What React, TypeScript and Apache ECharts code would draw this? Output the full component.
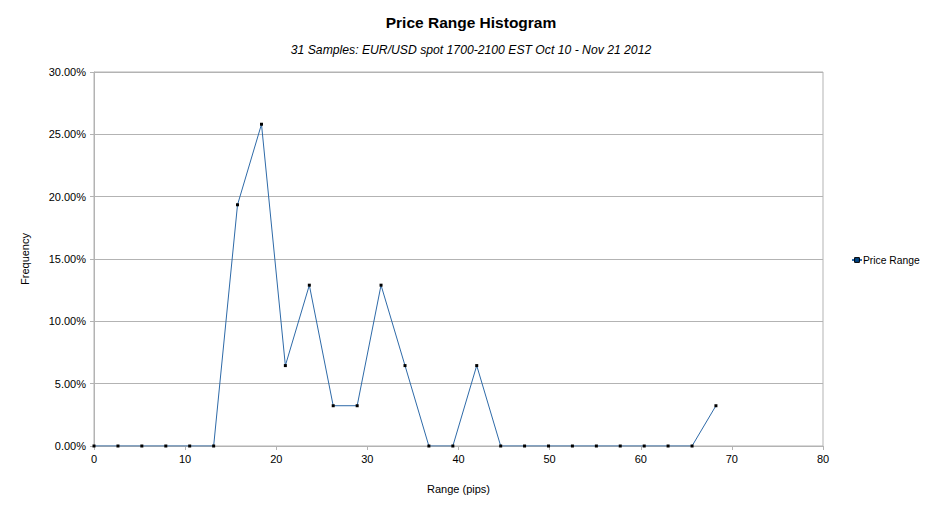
import React, { useEffect, useRef } from "react";
import * as echarts from "echarts";

const rangePips = [0, 2.63, 5.25, 7.88, 10.5, 13.13, 15.75, 18.38, 21, 23.63, 26.25, 28.88, 31.5, 34.13, 36.75, 39.38, 42, 44.63, 47.25, 49.88, 52.5, 55.13, 57.75, 60.38, 63, 65.63, 68.25];
const frequency = [0, 0, 0, 0, 0, 0, 0.1935, 0.2581, 0.0645, 0.129, 0.0323, 0.0323, 0.129, 0.0645, 0, 0, 0.0645, 0, 0, 0, 0, 0, 0, 0, 0, 0, 0.0323];
const seriesName = "Price Range";
const titleText = "Price Range Histogram";
const subtitleText = "31 Samples: EUR/USD spot 1700-2100 EST Oct 10 - Nov 21 2012";

const FONT = "'Liberation Sans', Arial, sans-serif";
const GRAY = "#b3b3b3";

export default function App() {
  const ref = useRef<HTMLDivElement>(null);
  useEffect(() => {
    if (!ref.current) return;
    const chart = echarts.init(ref.current, undefined, { renderer: "svg" });
    chart.setOption({
      animation: false,
      backgroundColor: "#ffffff",
      textStyle: { fontFamily: FONT },
      title: [
        {
          text: titleText,
          left: "center",
          top: 9,
          textStyle: { fontFamily: FONT, fontSize: 15.5, fontWeight: "bold", color: "#000" },
        },
        {
          text: subtitleText,
          left: "center",
          top: 39,
          textStyle: { fontFamily: FONT, fontSize: 12.2, fontStyle: "italic", fontWeight: "normal", color: "#000" },
        },
      ],
      legend: {
        left: 846,
        top: 250,
        itemWidth: 10,
        itemHeight: 6,
        itemGap: 4,
        textStyle: { fontFamily: FONT, fontSize: 10.3, color: "#000", padding: [0, 0, 0, -4] },
        data: [
          {
            name: seriesName,
            itemStyle: { color: "#004586", borderColor: "#000", borderWidth: 1 },
          },
        ],
      },
      grid: {
        left: 94,
        top: 72,
        width: 729,
        height: 374,
        show: true,
        borderColor: GRAY,
        borderWidth: 1,
        backgroundColor: "transparent",
      },
      xAxis: {
        type: "value",
        min: 0,
        max: 80,
        interval: 10,
        name: "Range (pips)",
        nameLocation: "middle",
        nameGap: 37,
        nameTextStyle: { fontFamily: FONT, fontSize: 11, color: "#000" },
        axisLine: { show: true, lineStyle: { color: GRAY } },
        axisTick: { show: true, inside: false, length: 4, lineStyle: { color: GRAY } },
        axisLabel: { fontFamily: FONT, fontSize: 11, color: "#000", margin: 7 },
        splitLine: { show: false },
      },
      yAxis: {
        type: "value",
        min: 0,
        max: 0.3,
        interval: 0.05,
        name: "Frequency",
        nameLocation: "middle",
        nameGap: 64,
        nameTextStyle: { fontFamily: FONT, fontSize: 11, color: "#000" },
        axisLine: { show: true, lineStyle: { color: GRAY } },
        axisTick: { show: true, inside: false, length: 4, lineStyle: { color: GRAY } },
        axisLabel: {
          fontFamily: FONT,
          fontSize: 11,
          color: "#000",
          margin: 8,
          formatter: (v: number) => (v * 100).toFixed(2) + "%",
        },
        splitLine: { show: true, lineStyle: { color: GRAY, width: 1 } },
      },
      series: [
        {
          name: seriesName,
          type: "line",
          data: rangePips.map((x, i) => [x, frequency[i]]),
          symbol: "rect",
          symbolSize: 3,
          showSymbol: true,
          itemStyle: { color: "#000000" },
          lineStyle: { color: "#2e6aa8", width: 1 },
          emphasis: { disabled: true },
        },
      ],
    });
    return () => chart.dispose();
  }, []);
  return (
    <div
      ref={ref}
      style={{ position: "fixed", left: 0, top: 0, width: 942, height: 516, background: "#fff" }}
    />
  );
}
